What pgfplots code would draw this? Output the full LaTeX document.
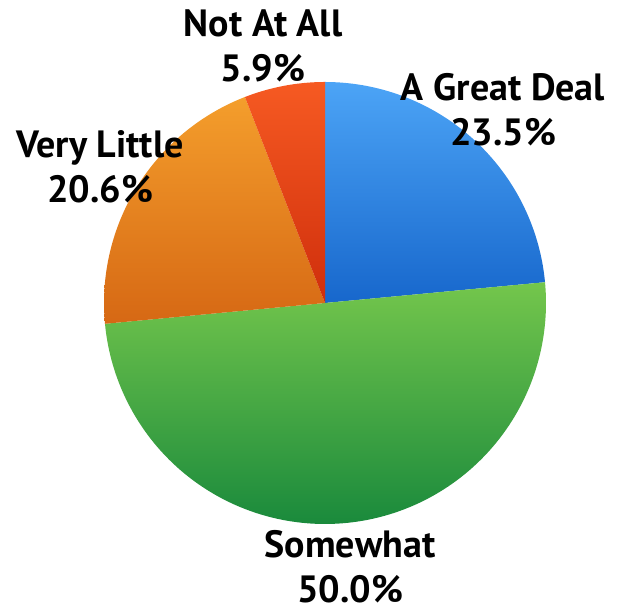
\documentclass[border=0pt]{standalone}
\usepackage{pgfplots}
\pgfplotsset{compat=1.18}
\usepackage{pgfplotstable}
\usepackage{fontspec}
\setmainfont{PT Sans}
\definecolor{bluetop}{HTML}{4CA4F6}
\definecolor{bluebot}{HTML}{1767CC}
\definecolor{greentop}{HTML}{74C64C}
\definecolor{greenbot}{HTML}{1A8A3C}
\definecolor{orangetop}{HTML}{F49E2C}
\definecolor{orangebot}{HTML}{D66814}
\definecolor{redtop}{HTML}{F65A22}
\definecolor{redbot}{HTML}{CF2E0C}
\pgfplotstableread{
label value
GreatDeal 23.5
Somewhat 50.0
VeryLittle 20.6
NotAtAll 5.9
}\piedata
\pgfplotstablegetelem{0}{value}\of\piedata\let\vA\pgfplotsretval
\pgfplotstablegetelem{1}{value}\of\piedata\let\vB\pgfplotsretval
\pgfplotstablegetelem{2}{value}\of\piedata\let\vC\pgfplotsretval
\pgfplotstablegetelem{3}{value}\of\piedata\let\vD\pgfplotsretval
\pgfmathsetmacro{\aA}{90}
\pgfmathsetmacro{\aB}{\aA-3.6*\vA}
\pgfmathsetmacro{\aC}{\aB-3.6*\vB}
\pgfmathsetmacro{\aD}{\aC-3.6*\vC}
\pgfmathsetmacro{\aE}{\aD-3.6*\vD}
\def\cx{325}\def\cy{310}\def\R{221}
\pgfkeys{/pgf/number format/assume math mode=true}
\newcommand\pct[1]{\pgfmathprintnumber[fixed,fixed zerofill,precision=1,assume math mode=true]{#1}\%}
\begin{document}
\begin{tikzpicture}
\begin{axis}[x=0.5pt,y=0.5pt,xmin=0,xmax=620,ymin=0,ymax=613,
  hide axis, clip=false, scale only axis]
\addplot[draw=none, top color=bluetop, bottom color=bluebot, domain=\aB:\aA, samples=80, variable=\t]
  ({\cx+\R*cos(\t)},{\cy+\R*sin(\t)}) -- (axis cs:\cx,\cy) -- cycle;
\addplot[draw=none, top color=greentop, bottom color=greenbot, domain=\aC:\aB, samples=150, variable=\t]
  ({\cx+\R*cos(\t)},{\cy+\R*sin(\t)}) -- (axis cs:\cx,\cy) -- cycle;
\addplot[draw=none, top color=orangetop, bottom color=orangebot, domain=\aD:\aC, samples=80, variable=\t]
  ({\cx+\R*cos(\t)},{\cy+\R*sin(\t)}) -- (axis cs:\cx,\cy) -- cycle;
\addplot[draw=none, top color=redtop, bottom color=redbot, domain=\aE:\aD, samples=30, variable=\t]
  ({\cx+\R*cos(\t)},{\cy+\R*sin(\t)}) -- (axis cs:\cx,\cy) -- cycle;
\begin{scope}[every node/.style={align=center, font=\fontsize{19}{22.5}\selectfont\bfseries}]
\node at (axis cs:503,503) {A Great Deal\\\pct{\vA}};
\node at (axis cs:350,46) {Somewhat\\\pct{\vB}};
\node at (axis cs:100,446) {Very Little\\\pct{\vC}};
\node at (axis cs:263,567) {Not At All\\\pct{\vD}};
\end{scope}
\end{axis}
\pgfresetboundingbox
\path (current axis.south west) rectangle (current axis.north east);
\end{tikzpicture}
\end{document}
